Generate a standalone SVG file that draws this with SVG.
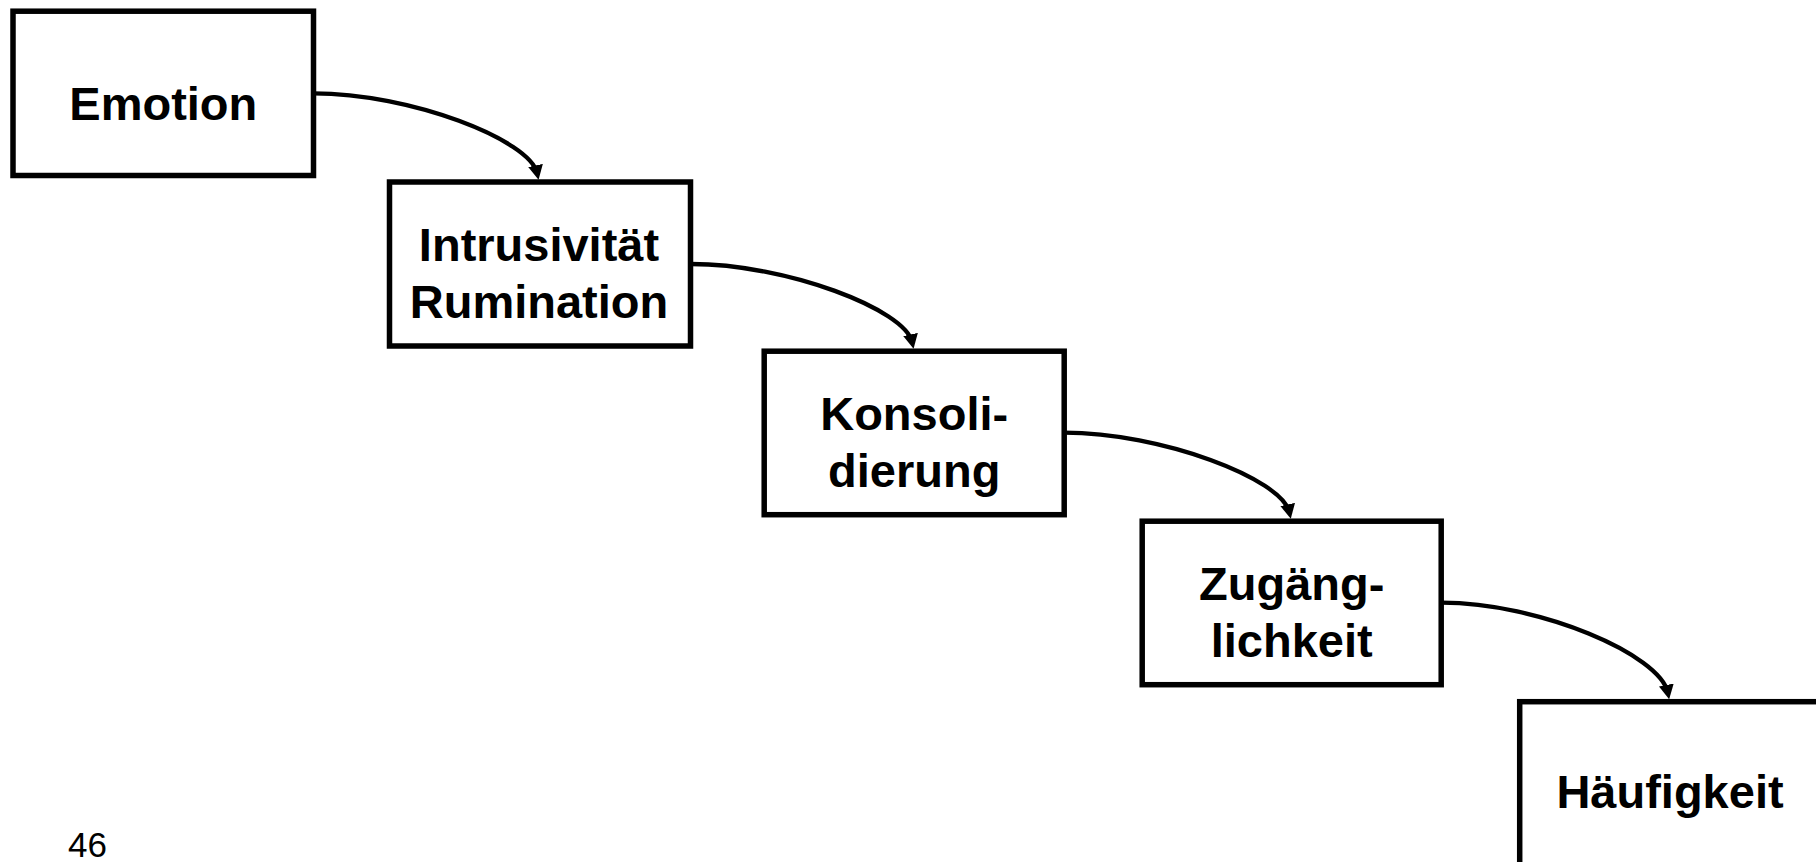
<svg xmlns="http://www.w3.org/2000/svg" width="1816" height="862" viewBox="0 0 1816 862">
  <style>
    .box { fill: #ffffff; stroke: #000000; stroke-width: 5.5; }
    .lbl { font-family: "Liberation Sans", Arial, sans-serif; font-weight: bold; font-size: 47px; fill: #000000; text-anchor: middle; }
    .conn { fill: none; stroke: #000000; stroke-width: 4.3; marker-end: url(#arrow); }
    .pg { font-family: "Liberation Sans", Arial, sans-serif; font-size: 35px; fill: #000000; }
  </style>
  <defs>
    <marker id="arrow" markerUnits="userSpaceOnUse" markerWidth="15" markerHeight="15" viewBox="0 0 15 15" refX="8" refY="7.5" orient="auto">
      <path d="M0,0 L14.5,7.5 L0,15 z" fill="#000000"/>
    </marker>
  </defs>
  <rect x="0" y="0" width="1816" height="862" fill="#ffffff"/>

  <g id="connectors">
    <path class="conn" d="M313.5,93.3 C410.3,93.3 530,139.9 537.2,173.3"/>
    <path class="conn" d="M691,264 C786.7,264 905.1,309.6 912.2,342.3"/>
    <path class="conn" d="M1064,432.7 C1161.5,432.7 1282.1,479 1289.4,512.3"/>
    <path class="conn" d="M1441.5,602.7 C1539.3,602.7 1660.4,654.7 1667.9,692.8"/>
  </g>

  <g id="node-emotion">
    <rect class="box" x="13" y="11.2" width="300.5" height="164.3"/>
    <text class="lbl" x="163.3" y="120">Emotion</text>
  </g>
  <g id="node-intrusivitaet">
    <rect class="box" x="389.5" y="182" width="301" height="164"/>
    <text class="lbl" x="539" y="260.7">Intrusivität</text>
    <text class="lbl" x="539" y="318.3">Rumination</text>
  </g>
  <g id="node-konsolidierung">
    <rect class="box" x="764.2" y="351.2" width="300" height="163.5"/>
    <text class="lbl" x="914.2" y="430">Konsoli-</text>
    <text class="lbl" x="914.2" y="486.7">dierung</text>
  </g>
  <g id="node-zugaenglichkeit">
    <rect class="box" x="1142.2" y="521.2" width="299" height="163.5"/>
    <text class="lbl" x="1291.7" y="600">Zugäng-</text>
    <text class="lbl" x="1291.7" y="656.7">lichkeit</text>
  </g>
  <g id="node-haeufigkeit">
    <rect class="box" x="1519.7" y="701.7" width="310" height="200"/>
    <text class="lbl" x="1670" y="808.3">Häufigkeit</text>
  </g>

  <text class="pg" x="68" y="856.7">46</text>
</svg>
